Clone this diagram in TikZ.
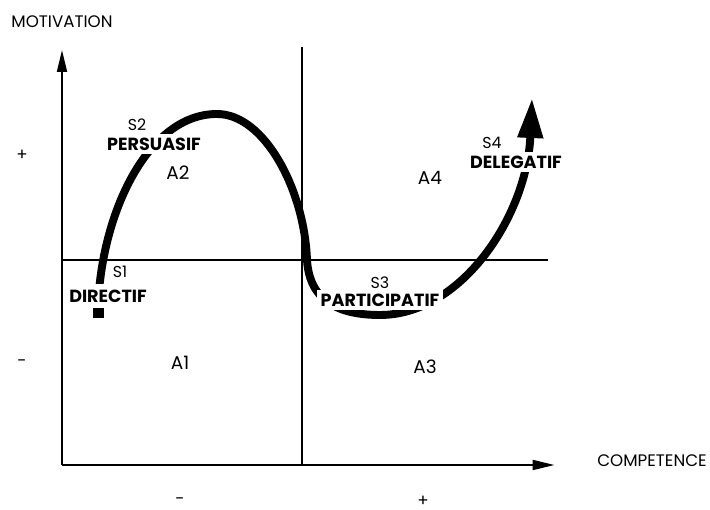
\documentclass[tikz,border=0pt]{standalone}
\usepackage{fontspec}
\setmainfont{Poppins}
\usetikzlibrary{arrows.meta,positioning}
\begin{document}
\begin{tikzpicture}[every node/.style={font=\fontsize{9.5}{11}\selectfont},
  ax/.style={line width=1.1pt,-{Triangle[width=2mm,length=4.4mm]}},
  mid/.style={line width=0.6pt},
  quad/.style={font=\fontsize{10.5}{12}\selectfont},
  lvl/.style={font=\fontsize{9}{10}\selectfont},
  sty/.style={font=\bfseries\fontsize{10}{12}\selectfont,fill=white,inner sep=2pt},
  curve/.style={line width=4.5pt,-{Triangle[width=4.8mm,length=8mm]}}]
\useasboundingbox (-1.24,-0.9) rectangle (12.96,9.3);
% axes
\coordinate (O) at (0,0);
\coordinate (ytop) at (0,8.3);
\coordinate (xend) at (9.85,0);
\coordinate (vtop) at (4.8,8.35);
\coordinate (vbot) at (4.8,0);
\coordinate (hl) at (0,4.1);
\coordinate (hr) at (9.72,4.1);
\draw[mid] (vbot) -- (vtop);
\draw[mid] (hl) -- (hr);
\draw[ax] (O) -- (ytop);
\draw[ax] (O) -- (xend);
\node (mot) at (0,8.86) {MOTIVATION};
\node (comp) at (11.8,0.08) {COMPETENCE};
\node (yp) at (-0.8,6.2) {+};
\node (ym) at (-0.8,2.04) {-};
\node[inner sep=1pt] (xm) at (2.36,-0.72) {-};
\node[inner sep=1pt] (xp) at (7.22,-0.72) {+};
% quadrants
\node[quad] (a2) at (2.32,5.84) {A2};
\node[quad] (a4) at (7.36,5.74) {A4};
\node[quad] (a1) at (2.36,2.04) {A1};
\node[quad] (a3) at (7.26,1.96) {A3};
% the curve
\node[fill=black,minimum width=0.22cm,minimum height=0.2cm,inner sep=0] (start) at (0.72,3.04) {};
\draw[curve] (start.north) .. controls (0.78,5.0) and (1.7,7.02) .. (3.1,7.02)
  .. controls (4.05,7.02) and (4.85,5.5) .. (4.9,4.1)
  .. controls (4.95,3.3) and (5.5,3.0) .. (6.36,3.0)
  .. controls (8.0,3.0) and (9.3,5.0) .. (9.4,7.34);
% styles
\node[sty,inner ysep=3.5pt] (s1) at (0.92,3.38) {DIRECTIF};
\node[lvl] (s1l) at (1.16,3.86) {S1};
\node[sty] (s2) at (1.84,6.42) {PERSUASIF};
\node[lvl] (s2l) at (1.5,6.8) {S2};
\node[sty] (s3) at (6.36,3.3) {PARTICIPATIF};
\node[lvl] (s3l) at (6.36,3.64) {S3};
\node[sty] (s4) at (9.08,6.06) {DELEGATIF};
\node[lvl] (s4l) at (8.6,6.44) {S4};
\end{tikzpicture}
\end{document}
